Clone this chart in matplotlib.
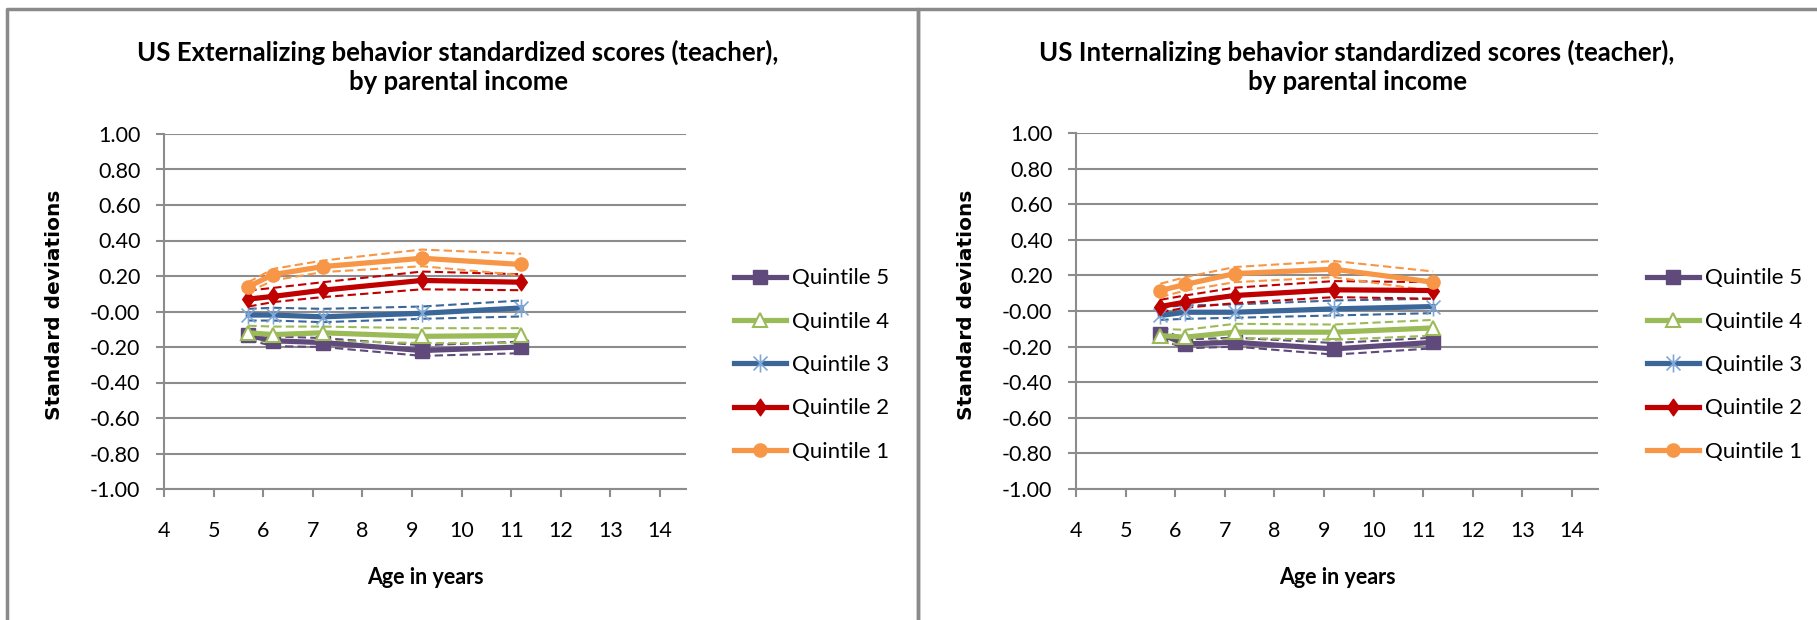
import numpy as np
import matplotlib
matplotlib.use("Agg")
from matplotlib import pyplot as plt
from matplotlib.path import Path
from matplotlib.lines import Line2D

W, H = 1817, 620

ages = [5.7, 6.2, 7.2, 9.2, 11.2]
labels = ["Quintile 5", "Quintile 4", "Quintile 3", "Quintile 2", "Quintile 1"]

# externalizing (teacher): estimate, upper bound, lower bound per quintile
ext_q5 = [-0.135, -0.165, -0.175, -0.22, -0.20]
ext_q5_hi = [-0.11, -0.14, -0.15, -0.19, -0.17]
ext_q5_lo = [-0.16, -0.195, -0.20, -0.25, -0.235]
ext_q4 = [-0.12, -0.13, -0.12, -0.14, -0.135]
ext_q4_hi = [-0.08, -0.085, -0.085, -0.094, -0.094]
ext_q4_lo = [-0.16, -0.17, -0.165, -0.178, -0.178]
ext_q3 = [-0.02, -0.02, -0.03, -0.01, 0.02]
ext_q3_hi = [0.015, 0.021, 0.015, 0.028, 0.062]
ext_q3_lo = [-0.051, -0.051, -0.06, -0.041, -0.028]
ext_q2 = [0.07, 0.085, 0.12, 0.175, 0.165]
ext_q2_hi = [0.118, 0.133, 0.165, 0.225, 0.21]
ext_q2_lo = [0.028, 0.053, 0.081, 0.125, 0.12]
ext_q1 = [0.14, 0.208, 0.253, 0.30, 0.265]
ext_q1_hi = [0.165, 0.24, 0.287, 0.349, 0.325]
ext_q1_lo = [0.109, 0.175, 0.222, 0.255, 0.205]

# internalizing (teacher)
int_q5 = [-0.129, -0.185, -0.176, -0.213, -0.176]
int_q5_hi = [-0.10, -0.16, -0.15, -0.18, -0.15]
int_q5_lo = [-0.16, -0.21, -0.20, -0.245, -0.21]
int_q4 = [-0.138, -0.147, -0.119, -0.119, -0.095]
int_q4_hi = [-0.10, -0.106, -0.072, -0.076, -0.05]
int_q4_lo = [-0.176, -0.189, -0.151, -0.162, -0.138]
int_q3 = [-0.025, -0.007, -0.007, 0.012, 0.025]
int_q3_hi = [0.021, 0.031, 0.037, 0.059, 0.069]
int_q3_lo = [-0.05, -0.044, -0.038, -0.025, -0.012]
int_q2 = [0.025, 0.05, 0.087, 0.119, 0.115]
int_q2_hi = [0.063, 0.087, 0.131, 0.168, 0.162]
int_q2_lo = [-0.007, 0.018, 0.044, 0.078, 0.069]
int_q1 = [0.115, 0.149, 0.21, 0.235, 0.162]
int_q1_hi = [0.153, 0.19, 0.247, 0.281, 0.222]
int_q1_lo = [0.078, 0.115, 0.162, 0.19, 0.112]

ext = [(ext_q5, ext_q5_hi, ext_q5_lo), (ext_q4, ext_q4_hi, ext_q4_lo),
       (ext_q3, ext_q3_hi, ext_q3_lo), (ext_q2, ext_q2_hi, ext_q2_lo),
       (ext_q1, ext_q1_hi, ext_q1_lo)]
intl = [(int_q5, int_q5_hi, int_q5_lo), (int_q4, int_q4_hi, int_q4_lo),
        (int_q3, int_q3_hi, int_q3_lo), (int_q2, int_q2_hi, int_q2_lo),
        (int_q1, int_q1_hi, int_q1_lo)]

y_ticks = np.round(np.arange(-1.0, 1.01, 0.2), 2)
x_ticks = list(range(4, 15))

colors = ["#604A7B", "#9BBB59", "#3A6699", "#C00000", "#F79646"]

# excel-style star: X with a vertical bar
star = Path([(-1, -1), (1, 1), (-1, 1), (1, -1), (0, -1.3), (0, 1.3)],
            [Path.MOVETO, Path.LINETO, Path.MOVETO, Path.LINETO, Path.MOVETO, Path.LINETO])
# tall diamond
diamond = Path([(0, 1), (0.7, 0), (0, -1), (-0.7, 0), (0, 1)],
               [Path.MOVETO, Path.LINETO, Path.LINETO, Path.LINETO, Path.CLOSEPOLY])

styles = [
    dict(marker="s", ms=9.5, mfc=colors[0], mec=colors[0]),
    dict(marker="^", ms=10, mfc="white", mec=colors[1], mew=1.5),
    dict(marker=star, ms=13, mfc="none", mec="#7EA6D6", mew=1.2),
    dict(marker=diamond, ms=12, mfc=colors[3], mec=colors[3]),
    dict(marker="o", ms=9.5, mfc=colors[4], mec=colors[4]),
]

font = "Lato"
plt.rcParams["font.family"] = [font, "DejaVu Sans"]
grid_c = "#8C8C8C"

fig = plt.figure(figsize=(W / 100, H / 100), dpi=100)

# panel borders
for x0, x1 in [(7, 918), (918, 1830)]:
    xs = [x0 / W, x0 / W, x1 / W, x1 / W]
    ys = [-0.1, 1 - 9 / H, 1 - 9 / H, -0.1]
    fig.add_artist(Line2D(xs, ys, color="#8A8A8A", lw=2.5, transform=fig.transFigure))


def panel(left_px, top_px, title_x, title, data, legend_x):
    right_px = left_px + 522
    bottom_px = 489
    ax = fig.add_axes([left_px / W, 1 - bottom_px / H, (right_px - left_px) / W,
                       (bottom_px - top_px) / H])
    ax.set_xlim(4, 4 + 522 / 49.6)
    ax.set_ylim(-1, 1)
    for (mid, hi, lo), c, st, lab in zip(data, colors, styles, labels):
        ax.plot(ages, hi, color=c, lw=1.5, ls=(0, (4, 2)), zorder=2)
        ax.plot(ages, lo, color=c, lw=1.5, ls=(0, (4, 2)), zorder=2)
        ax.plot(ages, mid, color=c, lw=3.75, label=lab, zorder=3, **st)
    ax.set_yticks(y_ticks)
    ax.set_yticklabels([f"{v:.2f}" for v in y_ticks])
    ax.set_xticks(x_ticks)
    ax.grid(axis="y", color=grid_c, lw=1.5)
    ax.set_axisbelow(True)
    for s in ["top", "right"]:
        ax.spines[s].set_visible(False)
    for s in ["left", "bottom"]:
        ax.spines[s].set_color(grid_c)
        ax.spines[s].set_linewidth(1.5)
    ax.tick_params(axis="both", colors=grid_c, length=6, width=1.5, labelsize=15.5,
                   labelcolor="black")
    ax.tick_params(axis="y", pad=11)
    ax.tick_params(axis="x", pad=17)
    mid_x = (left_px + right_px) / 2
    fig.text((left_px - 110) / W, 1 - 305 / H, "Standard deviations", family="DejaVu Sans",
             fontweight="bold", fontsize=14.5, rotation=90, ha="center", va="center")
    fig.text(mid_x / W, 1 - 578 / H, "Age in years", fontweight="bold", fontsize=15.5,
             ha="center", va="center")
    fig.text(title_x / W, 1 - 67 / H, title, ha="center", va="center",
             fontsize=18.5, fontweight="bold", linespacing=1.25)
    ax.legend(loc="center left", bbox_to_anchor=(legend_x / W, 1 - 365 / H),
              bbox_transform=fig.transFigure, frameon=False, fontsize=16,
              handlelength=2.35, handletextpad=0.25, labelspacing=1.05,
              borderaxespad=0, borderpad=0)
    return ax


panel(164, 134, 458,
      "US Externalizing behavior standardized scores (teacher),\nby parental income",
      ext, 734)
panel(1076, 133, 1357,
      "US Internalizing behavior standardized scores (teacher),\nby parental income",
      intl, 1647)

fig.savefig("out.png", dpi=100)
